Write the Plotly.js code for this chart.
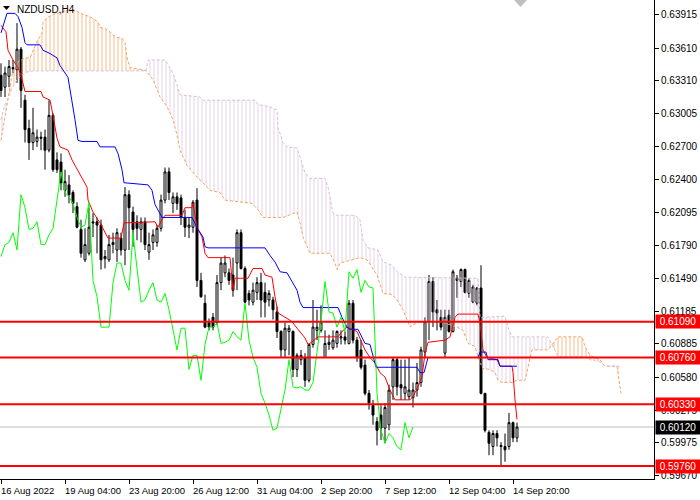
<!DOCTYPE html>
<html><head><meta charset="utf-8">
<script src="https://cdn.plot.ly/plotly-3.0.1.min.js"></script>
<style>html,body{margin:0;padding:0;background:#fff}#chart{width:700px;height:500px}</style>
</head><body><div id="chart"></div>
<script>
// ---- data (NZDUSD, H4) ----
const xTickBars = [0,16,32,48,64,80,96,112,128];
const xTickLabels = ['16 Aug 2022','19 Aug 04:00','23 Aug 20:00','26 Aug 12:00','31 Aug 04:00','2 Sep 20:00','7 Sep 12:00','12 Sep 04:00','14 Sep 20:00'];
const yTickVals = [0.63915,0.63610,0.63310,0.63005,0.62700,0.62400,0.62095,0.61790,0.61490,0.61185,0.60885,0.60580,0.60275,0.59975,0.59670];
const levels = [0.61090,0.60760,0.60330,0.59760];
const lastPrice = 0.60120;

const openP = [0.6336,0.6325,0.6335,0.6343,0.6341,0.6360,0.6313,0.6287,0.6274,0.6275,
0.6279,0.6279,0.6267,0.6299,0.6258,0.6256,0.6230,0.6235,0.6228,0.6215,
0.6194,0.6166,0.6172,0.6201,0.6201,0.6198,0.6167,0.6166,0.6180,0.6175,
0.6186,0.6175,0.6226,0.6210,0.6201,0.6194,0.6201,0.6173,0.6182,0.6182,
0.6195,0.6221,0.6247,0.6218,0.6224,0.6223,0.6205,0.6196,0.6196,0.6221,
0.6147,0.6126,0.6108,0.6113,0.6108,0.6145,0.6154,0.6154,0.6152,0.6163,
0.6191,0.6158,0.6135,0.6127,0.6136,0.6145,0.6136,0.6129,0.6129,0.6118,
0.6100,0.6083,0.6100,0.6100,0.6065,0.6074,0.6076,0.6055,0.6088,0.6101,
0.6101,0.6076,0.6088,0.6085,0.6089,0.6094,0.6095,0.6089,0.6126,0.6092,
0.6083,0.6069,0.6043,0.6032,0.6017,0.6023,0.6011,0.6014,0.6049,0.6074,
0.6051,0.6043,0.6040,0.6039,0.6046,0.6053,0.6081,0.6109,0.6146,0.6120,
0.6113,0.6080,0.6115,0.6100,0.6147,0.6146,0.6157,0.6135,0.6127,0.6126,
0.6140,0.6043,0.6007,0.5994,0.6006,0.5995,0.5994,0.5994,0.6016,0.6002];
const highP = [0.6347,0.6344,0.6350,0.6350,0.6384,0.6362,0.6318,0.6295,0.6306,0.6286,
0.6284,0.6286,0.6313,0.6301,0.6265,0.6264,0.6249,0.6244,0.6230,0.6219,
0.6203,0.6195,0.6214,0.6209,0.6205,0.6203,0.6175,0.6189,0.6191,0.6195,
0.6191,0.6233,0.6230,0.6215,0.6207,0.6205,0.6205,0.6191,0.6194,0.6198,
0.6226,0.6251,0.6251,0.6228,0.6228,0.6226,0.6212,0.6205,0.6221,0.6232,
0.6154,0.6134,0.6112,0.6117,0.6152,0.6168,0.6170,0.6158,0.6168,0.6194,
0.6194,0.6160,0.6138,0.6145,0.6150,0.6154,0.6145,0.6138,0.6132,0.6123,
0.6101,0.6108,0.6106,0.6101,0.6080,0.6083,0.6080,0.6089,0.6129,0.6120,
0.6124,0.6101,0.6097,0.6101,0.6101,0.6101,0.6100,0.6129,0.6129,0.6095,
0.6092,0.6074,0.6046,0.6037,0.6021,0.6032,0.6034,0.6051,0.6076,0.6076,
0.6074,0.6074,0.6076,0.6053,0.6071,0.6086,0.6113,0.6152,0.6150,0.6129,
0.6120,0.6120,0.6120,0.6157,0.6152,0.6158,0.6158,0.6149,0.6143,0.6141,
0.6161,0.6043,0.6009,0.6009,0.6009,0.5998,0.6006,0.6025,0.6017,0.6016];
const lowP = [0.6316,0.6316,0.6325,0.6338,0.6329,0.6306,0.6274,0.6258,0.6267,0.6270,
0.6267,0.6249,0.6265,0.6247,0.6246,0.6230,0.6224,0.6218,0.6209,0.6195,
0.6168,0.6164,0.6170,0.6187,0.6172,0.6157,0.6158,0.6164,0.6172,0.6164,
0.6170,0.6161,0.6175,0.6178,0.6184,0.6182,0.6175,0.6166,0.6175,0.6178,
0.6192,0.6218,0.6221,0.6209,0.6212,0.6198,0.6187,0.6186,0.6191,0.6141,
0.6131,0.6103,0.6101,0.6101,0.6106,0.6138,0.6150,0.6143,0.6132,0.6138,
0.6157,0.6126,0.6124,0.6124,0.6129,0.6113,0.6113,0.6123,0.6111,0.6094,
0.6076,0.6076,0.6078,0.6058,0.6058,0.6069,0.6049,0.6053,0.6085,0.6092,
0.6099,0.6076,0.6083,0.6083,0.6085,0.6088,0.6088,0.6088,0.6089,0.6072,
0.6065,0.6041,0.6028,0.6014,0.5995,0.6000,0.5997,0.6009,0.6037,0.6041,
0.6037,0.6037,0.6037,0.6030,0.6040,0.6049,0.6076,0.6092,0.6104,0.6101,
0.6101,0.6076,0.6099,0.6099,0.6131,0.6141,0.6135,0.6131,0.6126,0.6124,
0.6042,0.6007,0.5986,0.5986,0.5994,0.5976,0.5980,0.5991,0.5998,0.5998];
const closeP = [0.6322,0.6338,0.6344,0.6342,0.6360,0.6322,0.6286,0.6274,0.6283,0.6279,
0.6278,0.6267,0.6299,0.6249,0.6249,0.6237,0.6238,0.6226,0.6218,0.6196,
0.6172,0.6180,0.6196,0.6200,0.6198,0.6166,0.6169,0.6180,0.6182,0.6191,
0.6175,0.6226,0.6214,0.6194,0.6195,0.6201,0.6180,0.6180,0.6189,0.6195,
0.6221,0.6247,0.6228,0.6224,0.6218,0.6205,0.6196,0.6198,0.6219,0.6147,
0.6132,0.6104,0.6104,0.6104,0.6145,0.6163,0.6163,0.6147,0.6138,0.6191,
0.6158,0.6127,0.6129,0.6138,0.6145,0.6129,0.6127,0.6135,0.6120,0.6100,
0.6083,0.6103,0.6103,0.6065,0.6078,0.6078,0.6055,0.6088,0.6104,0.6104,
0.6108,0.6089,0.6090,0.6092,0.6100,0.6095,0.6092,0.6126,0.6092,0.6076,
0.6067,0.6043,0.6034,0.6023,0.6009,0.6011,0.6030,0.6046,0.6074,0.6049,
0.6048,0.6049,0.6046,0.6046,0.6053,0.6083,0.6109,0.6146,0.6118,0.6117,
0.6104,0.6113,0.6100,0.6155,0.6149,0.6157,0.6136,0.6147,0.6141,0.6140,
0.6043,0.6009,0.5997,0.6006,0.6002,0.5994,0.5991,0.6016,0.6002,0.6012];

// Ichimoku lines read at their break points (x = bar number)
const tenkanX = [0,1.25,1.75,3,4.25,5,6,10,10.5,12.25,13,14,14.75,16.75,17.75,19.75,21.5,21.75,23,24.75,26.75,30,30.75,38.5,39.25,40.25,41,45.25,46,47.75,48,49,50.25,51,51.75,57.25,57.75,58,58.5,61.75,63,65.25,66,67.75,68.5,69.25,71.5,72.75,74,76,76.75,77.25,79.25,84.25,85.25,86.5,89,90.25,91,92.25,93.5,94.75,96,97.25,98.5,102.25,103,104.25,105.25,106,106.75,111,112.25,113.5,114.25,119.25,119.75,120.5,121.5,124,124.75,127.75,128,128.5,129];
const tenkanY = [0.6382,0.6376,0.6359,0.6350,0.6343,0.6336,0.6321,0.6321,0.6316,0.6313,0.6299,0.6278,0.6270,0.6267,0.6258,0.6244,0.6233,0.6221,0.6210,0.6200,0.6186,0.6186,0.6200,0.6201,0.6196,0.6203,0.6207,0.6207,0.6214,0.6214,0.6218,0.6196,0.6187,0.6172,0.6168,0.6168,0.6152,0.6138,0.6149,0.6149,0.6158,0.6158,0.6152,0.6150,0.6132,0.6117,0.6112,0.6109,0.6103,0.6094,0.6088,0.6089,0.6095,0.6095,0.6100,0.6104,0.6100,0.6089,0.6083,0.6076,0.6071,0.6062,0.6058,0.6046,0.6037,0.6037,0.6040,0.6049,0.6058,0.6080,0.6090,0.6092,0.6095,0.6113,0.6116,0.6116,0.6108,0.6083,0.6076,0.6074,0.6068,0.6068,0.6062,0.6037,0.6019];
const kijunX = [0,1.5,3.5,4.25,5.25,6,6.5,9.75,10.5,12.25,14,14.75,16.75,17.75,18.5,19.25,20.25,24,24.75,28.5,29.25,30.25,30.75,36.75,37.75,38.5,40.25,47.75,49.25,50.5,51,51.75,66,67.25,68.5,69.75,71.5,72.75,74,74.75,75.5,84.25,85.25,86.5,87.25,89.25,90.25,91,92.25,93,93.75,104,104.75,105.75,106.5,106.75,119.25,119.75,121.25,121.75,124.25,124.75,129];
const kijunY = [0.6375,0.6393,0.6393,0.6390,0.6380,0.6366,0.6364,0.6364,0.6359,0.6356,0.6352,0.6345,0.6334,0.6313,0.6295,0.6276,0.6275,0.6275,0.6270,0.6270,0.6264,0.6249,0.6237,0.6235,0.6230,0.6217,0.6205,0.6205,0.6194,0.6187,0.6178,0.6177,0.6177,0.6170,0.6164,0.6155,0.6154,0.6146,0.6138,0.6127,0.6122,0.6122,0.6113,0.6104,0.6102,0.6102,0.6095,0.6089,0.6088,0.6076,0.6067,0.6067,0.6062,0.6062,0.6072,0.6076,0.6076,0.6081,0.6081,0.6074,0.6074,0.6068,0.6068];
const spanAX = [0,1,1.6,2.75,4,6,7.25,8,9,10.25,10.5,11.5,13,16.5,18.5,20.5,22.25,24.25,24.75,26,27.25,28,29,30.25,31,31.5,32.25,35.5,36.25,38,39.75,41.5,43,44,44.75,46.5,49,50.5,52.25,54.75,56,62.75,64.25,65.5,70.5,74,74.75,75.5,77.25,82.25,83.5,84,84.75,89.75,91.5,94,95.5,97.75,99,100.5,102.25,103,104.75,109.75,114,115.5,116.75,118.5,119.25,119.75,120.5,122.25,123.5,124.25,125.25,128,129,131,131.75,132.75,136.75,137.75,139.25,145.25,146,147.25,149.75,151,154,155];
const spanAY = [0.6276,0.6297,0.6313,0.6336,0.6348,0.6352,0.6352,0.6359,0.6367,0.6375,0.6385,0.6389,0.6392,0.6396,0.6396,0.6392,0.6390,0.6385,0.6380,0.6379,0.6376,0.6373,0.6371,0.6370,0.6366,0.6352,0.6343,0.6341,0.6340,0.6332,0.6316,0.6307,0.6295,0.6281,0.6267,0.6253,0.6242,0.6237,0.6230,0.6228,0.6221,0.6218,0.6212,0.6205,0.6205,0.6210,0.6200,0.6187,0.6172,0.6172,0.6163,0.6157,0.6163,0.6168,0.6166,0.6152,0.6135,0.6134,0.6129,0.6120,0.6104,0.6106,0.6109,0.6109,0.6104,0.6101,0.6089,0.6086,0.6077,0.6071,0.6066,0.6065,0.6062,0.6055,0.6053,0.6053,0.6055,0.6055,0.6067,0.6083,0.6083,0.6088,0.6095,0.6095,0.6086,0.6078,0.6074,0.6068,0.6068,0.6043];
const spanBX = [0,1,1.6,2.75,4,5.25,6.5,8,36.25,36.75,41,41.5,42.25,43,44,44.75,49.75,50.5,63.5,64.25,67.25,69,69.25,70.5,71.5,74,74.75,76,77.25,81,81.75,83,84,88.5,89.75,90.5,91.75,94.25,95.5,97.75,99,101,119.25,119.75,126,126.75,127.75,136.75,137.75,138.5,139.25,146,147.25,149.75,151,154,155];
const spanBY = [0.6295,0.6309,0.6313,0.6324,0.6332,0.6336,0.6339,0.6340,0.6340,0.6350,0.6350,0.6347,0.6343,0.6338,0.6327,0.6318,0.6316,0.6313,0.6313,0.6309,0.6307,0.6304,0.6288,0.6274,0.6270,0.6269,0.6261,0.6246,0.6241,0.6241,0.6233,0.6209,0.6207,0.6207,0.6203,0.6184,0.6177,0.6175,0.6164,0.6161,0.6155,0.6150,0.6149,0.6113,0.6114,0.6104,0.6095,0.6095,0.6088,0.6082,0.6077,0.6077,0.6074,0.6072,0.6068,0.6068,0.6068];
const cloudCross = [1.6,36.25,137.75,154];
const chikouShift = 26;

// ---- build ----
const ORANGE = '#F4A460', LILAC = '#D8BFD8';
const FONT = 'Liberation Sans, Arial, sans-serif';
const bars = openP.map((_, i) => i);
const traces = [];

const bounds = [spanAX[0]].concat(cloudCross, [spanAX[spanAX.length - 1]]);
for (let k = 0; k < bounds.length - 1; k++) {
  const lo = bounds[k] - 1e-9, hi = bounds[k + 1] + 1e-9;
  const ax = [], ay = [], bx = [], by = [];
  spanAX.forEach((x, j) => { if (x >= lo && x <= hi) { ax.push(x); ay.push(spanAY[j]); } });
  spanBX.forEach((x, j) => { if (x >= lo && x <= hi) { bx.push(x); by.push(spanBY[j]); } });
  const mA = ay.reduce((s, v) => s + v, 0) / ay.length;
  const mB = by.reduce((s, v) => s + v, 0) / by.length;
  const col = mA >= mB ? ORANGE : LILAC;
  traces.push({
    type: 'scatter', mode: 'lines',
    x: ax.concat(bx.slice().reverse()), y: ay.concat(by.slice().reverse()),
    line: { width: 0, color: col }, fill: 'toself', fillcolor: 'rgba(255,255,255,0)',
    fillpattern: { shape: '|', fgcolor: col, fgopacity: col === ORANGE ? 0.75 : 0.7, size: 4, solidity: 0.25, bgcolor: 'rgba(255,255,255,0)' },
    hoverinfo: 'skip', showlegend: false
  });
}
traces.push({ type: 'scatter', mode: 'lines', x: spanAX, y: spanAY, line: { color: ORANGE, width: 1, dash: '3px,2px' }, hoverinfo: 'skip', showlegend: false });
traces.push({ type: 'scatter', mode: 'lines', x: spanBX, y: spanBY, line: { color: LILAC, width: 1, dash: '3px,2px' }, hoverinfo: 'skip', showlegend: false });

traces.push({
  type: 'candlestick', x: bars, open: openP, high: highP, low: lowP, close: closeP,
  increasing: { line: { color: '#000', width: 1 }, fillcolor: '#fff' },
  decreasing: { line: { color: '#000', width: 1 }, fillcolor: '#000' },
  whiskerwidth: 0, hoverinfo: 'skip', showlegend: false
});

traces.push({ type: 'scatter', mode: 'lines', x: tenkanX, y: tenkanY, line: { color: '#FF0000', width: 1 }, hoverinfo: 'skip', showlegend: false });
traces.push({ type: 'scatter', mode: 'lines', x: kijunX, y: kijunY, line: { color: '#0000FF', width: 1 }, hoverinfo: 'skip', showlegend: false });
traces.push({ type: 'scatter', mode: 'lines',
  x: bars.slice(chikouShift).map(i => i - chikouShift), y: closeP.slice(chikouShift),
  line: { color: '#00FF00', width: 1 }, hoverinfo: 'skip', showlegend: false });

const shapes = [];
shapes.push({ type: 'line', xref: 'paper', x0: 0, x1: 1, yref: 'y', y0: lastPrice, y1: lastPrice, line: { color: '#C0C0C0', width: 1 }, layer: 'below' });
levels.forEach(v => shapes.push({ type: 'line', xref: 'paper', x0: 0, x1: 1, yref: 'y', y0: v, y1: v, line: { color: '#FF0000', width: 2 }, layer: 'above' }));
shapes.push({ type: 'path', xref: 'paper', yref: 'paper', path: 'M 0.0046 0.9875 L 0.0153 0.9875 L 0.0099 0.9791 Z', fillcolor: '#000', line: { width: 0 } });
shapes.push({ type: 'path', xref: 'paper', yref: 'paper', path: 'M 0.7859 1 L 0.8058 1 L 0.7959 0.9854 Z', fillcolor: '#C0C0C0', line: { width: 0 } });

const annotations = [];
annotations.push({ xref: 'paper', yref: 'paper', x: 0, y: 1, xanchor: 'left', yanchor: 'top', xshift: 15, yshift: -2, text: 'NZDUSD,H4', showarrow: false, font: { family: FONT, size: 10, color: '#000' } });
xTickBars.forEach((b, j) => annotations.push({ xref: 'x', yref: 'paper', x: b, y: 0, xanchor: 'left', yanchor: 'top', xshift: -2, yshift: -4, text: xTickLabels[j], showarrow: false, font: { family: FONT, size: 9.5, color: '#000' } }));
levels.forEach(v => annotations.push({ xref: 'paper', yref: 'y', x: 1, y: v, xanchor: 'left', yanchor: 'middle', xshift: 1, text: v.toFixed(5), showarrow: false, bgcolor: '#FF0000', borderpad: 1, width: 42, align: 'center', font: { family: FONT, size: 10, color: '#fff' } }));
annotations.push({ xref: 'paper', yref: 'y', x: 1, y: lastPrice, xanchor: 'left', yanchor: 'middle', xshift: 1, text: lastPrice.toFixed(5), showarrow: false, bgcolor: '#000', borderpad: 1, width: 42, align: 'center', font: { family: FONT, size: 10, color: '#fff' } });

const layout = {
  width: 700, height: 500,
  margin: { l: 0, r: 46, t: 0, b: 21, pad: 0 },
  paper_bgcolor: '#fff', plot_bgcolor: '#fff',
  showlegend: false, hovermode: false, boxgap: 0.3,
  xaxis: {
    range: [-0.25, 163.25], showgrid: false, zeroline: false,
    showline: true, linecolor: '#000', linewidth: 1,
    ticks: 'outside', ticklen: 4, tickcolor: '#000', tickwidth: 1,
    tickmode: 'array', tickvals: xTickBars, showticklabels: false,
    rangeslider: { visible: false }, fixedrange: true
  },
  yaxis: {
    side: 'right', range: [0.59641, 0.64053], showgrid: false, zeroline: false,
    showline: true, linecolor: '#000', linewidth: 1,
    ticks: 'outside', ticklen: 4, tickcolor: '#000', tickwidth: 1,
    tickmode: 'array', tickvals: yTickVals, ticktext: yTickVals.map(v => v.toFixed(5)),
    tickfont: { family: FONT, size: 10, color: '#000' },
    fixedrange: true
  },
  shapes: shapes, annotations: annotations
};

Plotly.newPlot('chart', traces, layout, { displayModeBar: false, staticPlot: true });
</script>
</body></html>
